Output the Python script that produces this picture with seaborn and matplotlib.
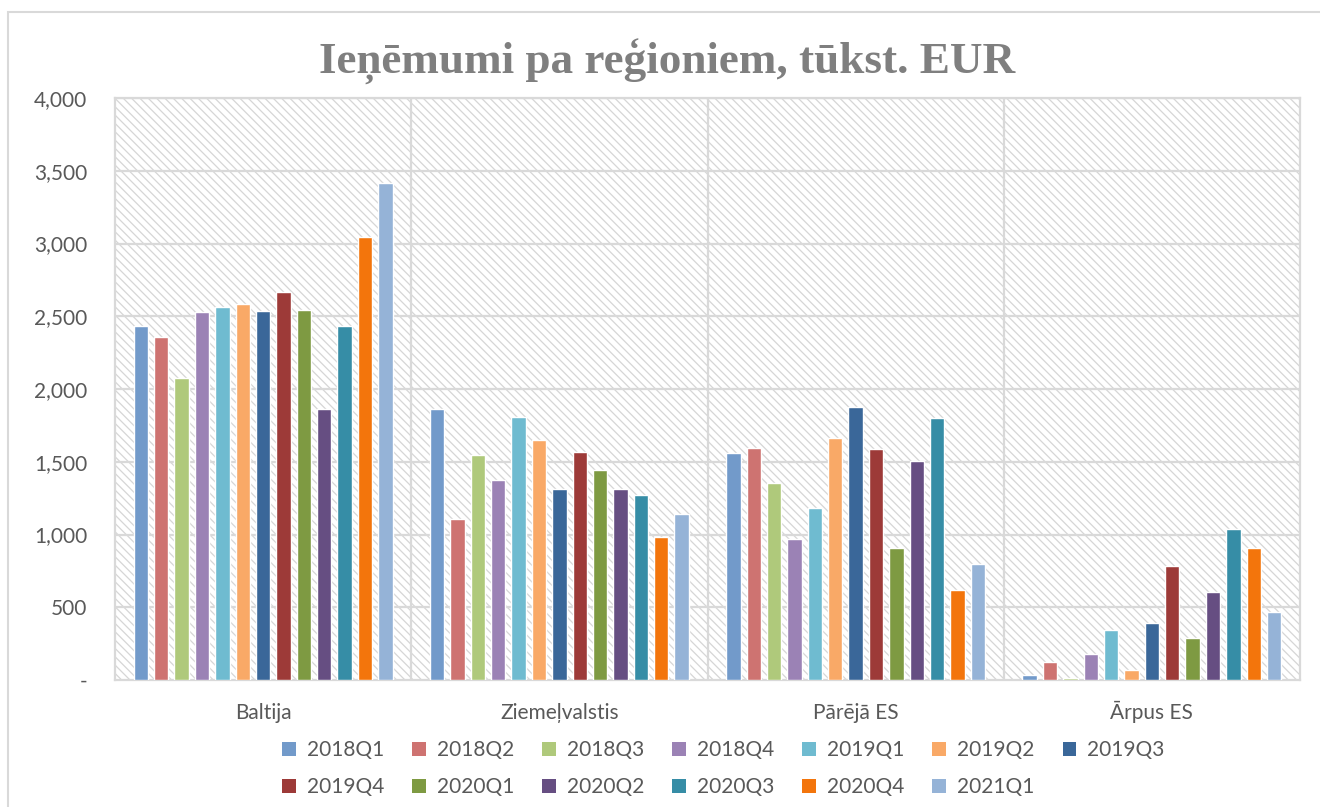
import pandas as pd
import seaborn as sns
import matplotlib.pyplot as plt
from matplotlib.patches import Rectangle, Patch
from matplotlib.ticker import FuncFormatter

# Data (tūkst. EUR)
regions = ['Baltija', 'Ziemeļvalstis', 'Pārējā ES', 'Ārpus ES']
quarters = ['2018Q1', '2018Q2', '2018Q3', '2018Q4', '2019Q1', '2019Q2', '2019Q3',
            '2019Q4', '2020Q1', '2020Q2', '2020Q3', '2020Q4', '2021Q1']

baltija = [2435, 2357, 2076, 2529, 2564, 2584, 2534, 2664, 2543, 1860, 2435, 3043, 3413]
ziemelvalstis = [1860, 1104, 1546, 1375, 1808, 1649, 1315, 1567, 1441, 1313, 1269, 983, 1143]
pareja_es = [1558, 1594, 1356, 969, 1182, 1663, 1874, 1585, 907, 1505, 1798, 621, 797]
arpus_es = [37, 121, 16, 181, 346, 69, 389, 783, 289, 605, 1040, 907, 467]

colors = ['#729ACA', '#CE7371', '#AFC97B', '#9B82B5', '#6FBBD0', '#F9A967', '#3A6799',
          '#9D3A38', '#7E9A42', '#664E82', '#368DA6', '#F3750C', '#95B3D7']

rows = []
for region, vals in zip(regions, [baltija, ziemelvalstis, pareja_es, arpus_es]):
    for q, v in zip(quarters, vals):
        rows.append({'region': region, 'quarter': q, 'value': v})
df = pd.DataFrame(rows)

sns.set_style('white')
plt.rcParams['font.family'] = ['Lato', 'DejaVu Sans']
plt.rcParams['hatch.linewidth'] = 0.9

fig = plt.figure(figsize=(13.2, 8.07), dpi=100)
ax = fig.add_axes([115 / 1320, 1 - 680 / 807, 1185 / 1320, 582 / 807])

# hatched plot background like the Excel pattern fill
grid_c = '#D9D9D9'
ax.add_patch(Rectangle((0, 0), 1, 1, transform=ax.transAxes, facecolor='white',
                       edgecolor='#D6D6D6', hatch='\\\\\\\\', linewidth=0, zorder=0))

sns.barplot(data=df, x='region', y='value', hue='quarter', order=regions,
            hue_order=quarters, palette=colors, saturation=1, width=0.894, gap=0.29,
            legend=False, ax=ax, zorder=3)

ax.set_ylim(0, 4000)
ax.set_xlim(-0.5, 3.5)
ax.set_yticks(range(0, 4001, 500))
ax.yaxis.set_major_formatter(FuncFormatter(lambda v, p: '-' if v == 0 else f'{v:,.0f}'))
for y in range(500, 4001, 500):
    ax.axhline(y, color=grid_c, lw=1.6, zorder=1)
for x in [0.5, 1.5, 2.5]:
    ax.axvline(x, color=grid_c, lw=1.6, zorder=1)
for s in ax.spines.values():
    s.set_visible(True)
    s.set_color(grid_c)
    s.set_linewidth(1.6)

ax.set_xlabel('')
ax.set_ylabel('')
ax.tick_params(axis='y', length=0, pad=20, labelsize=15, labelcolor='#595959')
ax.tick_params(axis='x', length=0, pad=28, labelsize=15, labelcolor='#595959')
for lab in ax.get_xticklabels():
    lab.set_verticalalignment('baseline')

fig.text(0.505, 1 - 62 / 807, 'Ieņēmumi pa reģioniem, tūkst. EUR', ha='center', va='center',
         fontsize=32.5, fontweight='bold', color='#7F7F7F', family=['Liberation Serif', 'DejaVu Serif'])

# legend: reorder so that it reads row by row
order = [0, 7, 1, 8, 2, 9, 3, 10, 4, 11, 5, 12, 6]
handles = [Patch(facecolor=colors[i], edgecolor='none') for i in order]
labels = [quarters[i] for i in order]
fig.legend(handles, labels, loc='upper left', bbox_to_anchor=(282 / 1320, 1 - 740 / 807), ncol=7,
           frameon=False, handlelength=0.67, handleheight=0.67, handletextpad=0.53,
           columnspacing=1.33, labelspacing=0.83, borderpad=0, borderaxespad=0,
           prop={'size': 15}, labelcolor='#595959')

# chart area border
fig.patches.append(Rectangle((7.5 / 1320, -0.05), 1.1, 1 - 12 / 807 + 0.05,
                             transform=fig.transFigure, fill=False, edgecolor=grid_c, lw=1.5))

fig.savefig('out.png', dpi=100)
